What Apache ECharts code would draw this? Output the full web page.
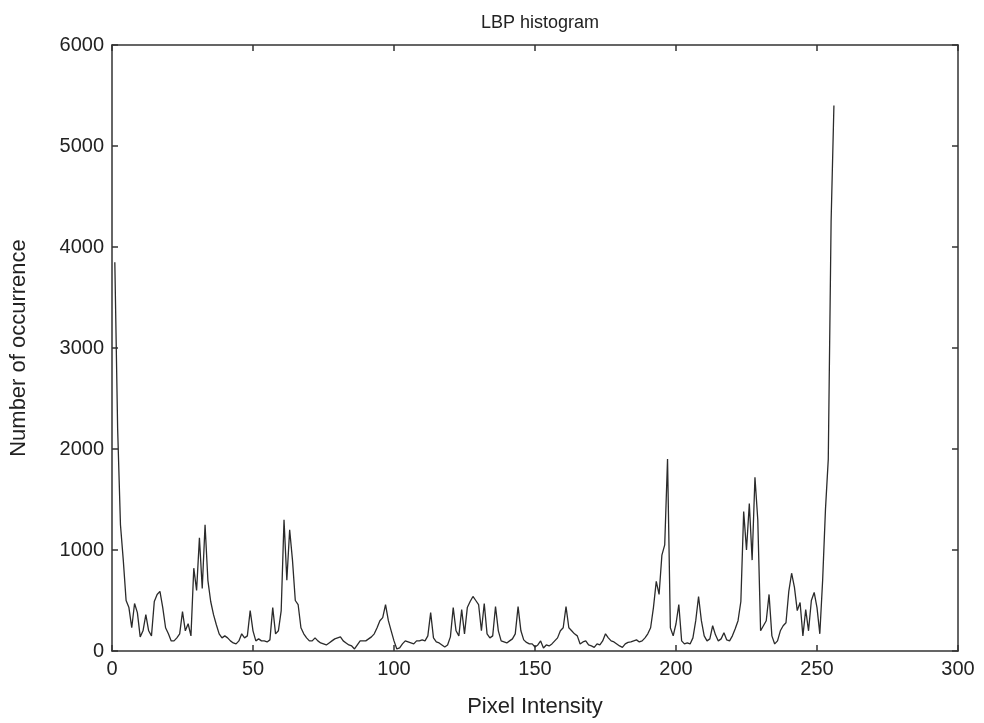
<!DOCTYPE html>
<html>
<head>
<meta charset="utf-8">
<title>LBP histogram</title>
<script src="https://cdn.jsdelivr.net/npm/echarts@6/dist/echarts.min.js"></script>
<style>
  html, body { margin: 0; padding: 0; background: #fff; }
  #chart { width: 984px; height: 723px; }
</style>
</head>
<body>
<div id="chart"></div>
<script>
// LBP histogram counts, bins 1..256
const lbpCounts = [
  3850, 2200, 1250, 900, 500, 430, 230, 470, 380, 140,
  200, 360, 200, 150, 490, 560, 590, 430, 230, 170,
  100, 100, 130, 170, 390, 200, 270, 150, 820, 600,
  1120, 620, 1250, 700, 490, 360, 260, 170, 130, 150,
  130, 100, 80, 70, 100, 170, 130, 150, 400, 200,
  100, 120, 100, 100, 90, 110, 430, 170, 200, 400,
  1300, 700, 1200, 900, 500, 460, 230, 170, 130, 100,
  100, 130, 100, 80, 70, 60, 80, 100, 120, 130,
  140, 100, 80, 60, 50, 20, 60, 100, 100, 100,
  120, 140, 170, 230, 300, 330, 460, 300, 200, 100,
  20, 30, 70, 100, 90, 80, 70, 100, 100, 110,
  100, 150, 380, 130, 90, 80, 60, 40, 60, 140,
  430, 200, 150, 410, 170, 430, 490, 540, 500, 460,
  200, 470, 170, 130, 150, 440, 200, 100, 90, 80,
  100, 120, 170, 440, 200, 110, 85, 70, 70, 40,
  60, 100, 30, 60, 50, 70, 100, 130, 200, 230,
  440, 230, 200, 170, 150, 70, 90, 100, 60, 50,
  36, 70, 60, 100, 170, 130, 100, 90, 70, 50,
  36, 70, 85, 90, 100, 110, 90, 100, 130, 170,
  230, 430, 690, 560, 950, 1050, 1900, 230, 150, 270,
  460, 100, 70, 80, 70, 130, 300, 540, 300, 150,
  100, 120, 250, 160, 100, 120, 180, 110, 100, 150,
  220, 300, 490, 1380, 1000, 1460, 900, 1720, 1300, 200,
  250, 300, 560, 150, 70, 100, 200, 250, 280, 590,
  770, 630, 400, 480, 150, 410, 200, 500, 580, 430,
  170, 700, 1400, 1900, 4250, 5400
];

const xTicks = [0, 50, 100, 150, 200, 250, 300];
const yTicks = [0, 1000, 2000, 3000, 4000, 5000, 6000];

const titleText = "LBP histogram";
const xName = "Pixel Intensity";
const yName = "Number of occurrence";

const textColor = "#222";
const fontFamily = "Liberation Sans, Arial, sans-serif";

const chart = echarts.init(document.getElementById("chart"));

const seriesData = lbpCounts.map((v, i) => [i + 1, v]);

function boxAxis() {
  return {
    axisLine: { show: true, onZero: false, lineStyle: { color: "#333", width: 1.5 } },
    axisTick: { show: true, inside: true, length: 6, lineStyle: { color: "#333", width: 1.5 } },
    splitLine: { show: false }
  };
}

chart.setOption({
  backgroundColor: "#fff",
  animation: false,
  title: {
    text: titleText,
    left: 535,
    top: 9,
    textAlign: "center",
    textStyle: { fontFamily: fontFamily, fontSize: 18, fontWeight: "normal", color: textColor }
  },
  grid: { left: 112, right: 26, top: 45, bottom: 66 },
  xAxis: [
    Object.assign(boxAxis(), {
      type: "value",
      min: xTicks[0],
      max: xTicks[xTicks.length - 1],
      interval: 50,
      position: "bottom",
      name: xName,
      nameLocation: "middle",
      nameGap: 45,
      nameTextStyle: { fontFamily: fontFamily, fontSize: 22, color: textColor },
      axisLabel: { margin: 8, fontFamily: fontFamily, fontSize: 20, color: textColor,
        formatter: (v) => String(v) }
    }),
    Object.assign(boxAxis(), {
      type: "value",
      min: xTicks[0],
      max: xTicks[xTicks.length - 1],
      interval: 50,
      position: "top",
      axisLabel: { show: false }
    })
  ],
  yAxis: [
    Object.assign(boxAxis(), {
      type: "value",
      min: yTicks[0],
      max: yTicks[yTicks.length - 1],
      interval: 1000,
      position: "left",
      name: yName,
      nameLocation: "middle",
      nameGap: 82,
      nameTextStyle: { fontFamily: fontFamily, fontSize: 22, color: textColor },
      axisLabel: { margin: 8, fontFamily: fontFamily, fontSize: 20, color: textColor,
        formatter: (v) => String(v) }
    }),
    Object.assign(boxAxis(), {
      type: "value",
      min: yTicks[0],
      max: yTicks[yTicks.length - 1],
      interval: 1000,
      position: "right",
      axisLabel: { show: false }
    })
  ],
  series: [
    {
      type: "line",
      data: seriesData,
      xAxisIndex: 0,
      yAxisIndex: 0,
      showSymbol: false,
      lineStyle: { color: "#2b2b2b", width: 1.3 }
    }
  ]
});
</script>
</body>
</html>
